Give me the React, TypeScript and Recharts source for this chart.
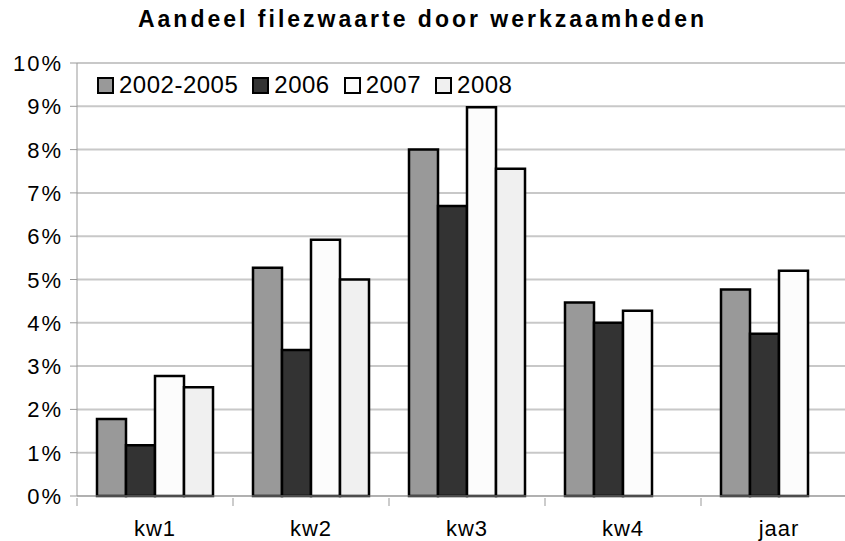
import { BarChart, Bar, XAxis, YAxis, CartesianGrid } from "recharts";

const categories = ["kw1", "kw2", "kw3", "kw4", "jaar"];
const s2002_2005 = [1.78, 5.27, 8.0, 4.47, 4.77];
const s2006 = [1.17, 3.37, 6.7, 4.0, 3.75];
const s2007 = [2.77, 5.92, 8.98, 4.28, 5.2];
const s2008 = [2.51, 5.0, 7.56, null, null];
const yTicks = [0, 1, 2, 3, 4, 5, 6, 7, 8, 9, 10];

const series = [
  { key: "a", name: "2002-2005", fill: "#999999", values: s2002_2005 },
  { key: "b", name: "2006", fill: "#333333", values: s2006 },
  { key: "c", name: "2007", fill: "#fcfcfc", values: s2007 },
  { key: "d", name: "2008", fill: "#f0f0f0", values: s2008 },
];

const data = categories.map((c, i) => {
  const row: Record<string, string | number | null> = { cat: c };
  series.forEach((s) => (row[s.key] = s.values[i]));
  return row;
});

const font = "'Liberation Sans', Arial, sans-serif";
const BAND = 156;

function CatTick(props: any) {
  const { x, y, payload, index } = props;
  return (
    <g>
      <line x1={x - BAND / 2} x2={x - BAND / 2} y1={y} y2={y + 8} stroke="#999" />
      {index === categories.length - 1 && (
        <line x1={x + BAND / 2} x2={x + BAND / 2} y1={y} y2={y + 8} stroke="#999" />
      )}
      <text
        x={x}
        y={y + 38}
        textAnchor="middle"
        fontSize={22}
        letterSpacing={1}
        fill="#000"
        fontFamily={font}
      >
        {payload.value}
      </text>
    </g>
  );
}

function YTick(props: any) {
  const { x, y, payload } = props;
  return (
    <text
      x={x}
      y={y}
      dy={8}
      textAnchor="end"
      fontSize={22}
      letterSpacing={2}
      fill="#000"
      fontFamily={font}
    >
      {`${payload.value}%`}
    </text>
  );
}

function LegendBox() {
  return (
    <div
      style={{
        position: "absolute",
        top: 71,
        left: 97,
        display: "flex",
        gap: 14,
        fontFamily: font,
        fontSize: 24,
        letterSpacing: 0.5,
        color: "#000",
        lineHeight: "28px",
      }}
    >
      {series.map((s) => (
        <div key={s.key} style={{ display: "flex", alignItems: "center", gap: 5 }}>
          <span
            style={{
              display: "inline-block",
              width: 13,
              height: 13,
              background: s.fill,
              border: "2px solid #000",
            }}
          />
          <span>{s.name}</span>
        </div>
      ))}
    </div>
  );
}

export default function App() {
  return (
    <div
      style={{
        position: "absolute",
        left: 0,
        top: 0,
        width: 845,
        height: 541,
        overflow: "hidden",
        background: "#fff",
      }}
    >
      <div
        style={{
          position: "absolute",
          top: 6,
          left: 0,
          width: 845,
          textAlign: "center",
          fontFamily: font,
          fontWeight: "bold",
          fontSize: 23,
          letterSpacing: 3,
        }}
      >
        Aandeel filezwaarte door werkzaamheden
      </div>
      <BarChart
        width={870}
        height={541}
        data={data}
        margin={{ top: 63, right: 13, bottom: 0, left: 0 }}
        barCategoryGap={20}
        barGap={0}
      >
        <CartesianGrid vertical={false} stroke="#c8c8c8" strokeWidth={2} />
        <XAxis
          dataKey="cat"
          height={45}
          tickLine={false}
          tickSize={0}
          axisLine={{ stroke: "#999" }}
          tick={<CatTick />}
          interval={0}
        />
        <YAxis
          width={77}
          domain={[0, 10]}
          ticks={yTicks}
          interval={0}
          axisLine={{ stroke: "#999" }}
          tickLine={{ stroke: "#999" }}
          tickSize={7}
          tickMargin={7}
          tick={<YTick />}
        />
        {series.map((s) => (
          <Bar
            key={s.key}
            dataKey={s.key}
            name={s.name}
            fill={s.fill}
            stroke="#000"
            strokeWidth={2.5}
            isAnimationActive={false}
          />
        ))}
      </BarChart>
      <LegendBox />
    </div>
  );
}
